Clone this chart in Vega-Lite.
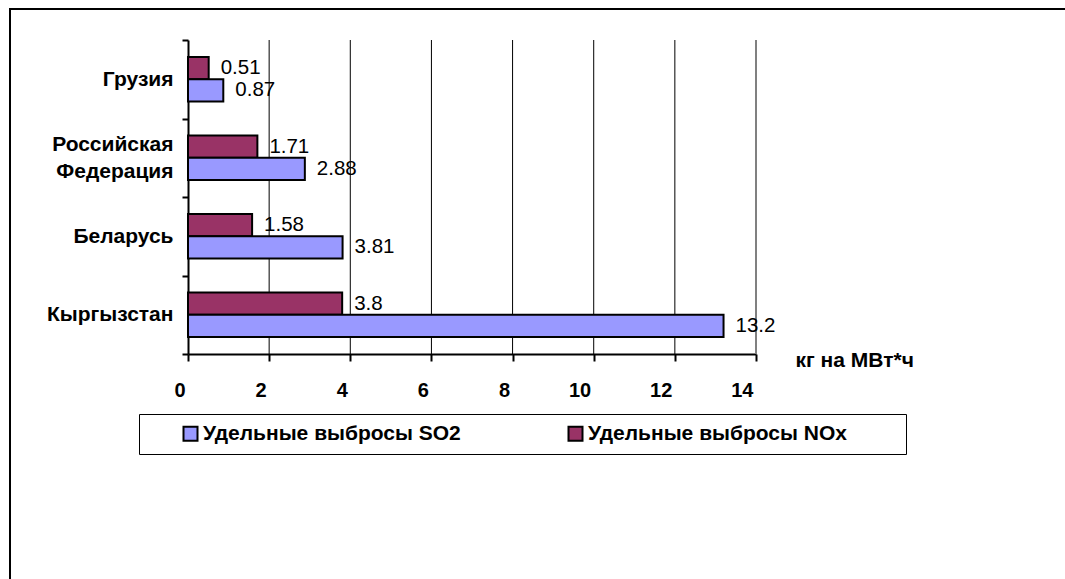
{
  "$schema": "https://vega.github.io/schema/vega-lite/v6.json",
  "width": 1100,
  "height": 640,
  "autosize": {"type": "none"},
  "padding": {"left": 10, "top": 9, "right": 0, "bottom": 0},
  "background": "white",
  "config": {
    "font": "Liberation Sans",
    "view": {"stroke": "#000", "strokeWidth": 2}
  },
  "data": {
    "values": [
      {"country": "Грузия", "series": "Удельные выбросы NOx", "value": 0.51},
      {"country": "Грузия", "series": "Удельные выбросы SO2", "value": 0.87},
      {"country": "Российская Федерация", "series": "Удельные выбросы NOx", "value": 1.71},
      {"country": "Российская Федерация", "series": "Удельные выбросы SO2", "value": 2.88},
      {"country": "Беларусь", "series": "Удельные выбросы NOx", "value": 1.58},
      {"country": "Беларусь", "series": "Удельные выбросы SO2", "value": 3.81},
      {"country": "Кыргызстан", "series": "Удельные выбросы NOx", "value": 3.8},
      {"country": "Кыргызстан", "series": "Удельные выбросы SO2", "value": 13.2}
    ]
  },
  "resolve": {"scale": {"y": "independent"}},
  "layer": [
    {
      "data": {"values": [{"value": 2}, {"value": 4}, {"value": 6}, {"value": 8}, {"value": 10}, {"value": 12}, {"value": 14}]},
      "mark": {"type": "rule"},
      "encoding": {
        "x": {"field": "value", "type": "quantitative"},
        "y": {"datum": 0, "type": "quantitative", "scale": {"domain": [0, 1], "range": [31, 345]}, "axis": null},
        "y2": {"datum": 1},
        "color": {"condition": {"test": "datum.value === 14", "value": "#808080"}, "value": "#000"},
        "strokeWidth": {"condition": {"test": "datum.value === 14", "value": 2}, "value": 1}
      }
    },
    {
      "encoding": {
        "y": {
          "field": "country",
          "type": "nominal",
          "sort": ["Грузия", "Российская Федерация", "Беларусь", "Кыргызстан"],
          "scale": {"range": [31, 345], "paddingInner": 0, "paddingOuter": 0},
          "axis": {
            "title": null,
            "orient": "left",
            "offset": -178,
            "tickBand": "extent",
            "domainColor": "#000",
            "domainWidth": 2,
            "tickColor": "#000",
            "tickWidth": 2,
            "tickSize": 6,
            "labelFontSize": 21,
            "labelFontWeight": "bold",
            "labelColor": "#000",
            "labelPadding": 9,
            "labelExpr": "split(datum.label, ' ')",
            "labelLineHeight": 27,
            "labelOffset": {"condition": {"test": "datum.value === 'Российская Федерация'", "value": -13}, "value": 0},
            "labelLimit": 300,
            "grid": false
          }
        },
        "yOffset": {
          "field": "series",
          "type": "nominal",
          "sort": ["Удельные выбросы NOx", "Удельные выбросы SO2"],
          "scale": {"paddingOuter": 0.77, "paddingInner": 0}
        },
        "x": {
          "field": "value",
          "type": "quantitative",
          "scale": {"domain": [0, 14], "range": [178, 746], "nice": false},
          "axis": {
            "title": "кг на МВт*ч",
            "orient": "bottom",
            "offset": -295,
            "values": [0, 2, 4, 6, 8, 10, 12, 14],
            "format": "d",
            "grid": false,
            "domainColor": "#000",
            "domainWidth": 2,
            "tickColor": "#000",
            "tickWidth": 2,
            "tickSize": 7,
            "labelFontSize": 20,
            "labelFontWeight": "bold",
            "labelColor": "#000",
            "labelAlign": "right",
            "labelOffset": -3,
            "labelBaseline": "middle",
            "labelPadding": 29,
            "labelFlush": false,
            "titleX": 785,
            "titleY": 6,
            "titleAlign": "left",
            "titleBaseline": "middle",
            "titleFontSize": 21,
            "titleFontWeight": "bold",
            "titleColor": "#000"
          }
        }
      },
      "layer": [
        {
          "mark": {"type": "bar", "stroke": "#000", "strokeWidth": 2},
          "encoding": {
            "color": {
              "field": "series",
              "type": "nominal",
              "scale": {
                "domain": ["Удельные выбросы SO2", "Удельные выбросы NOx"],
                "range": ["#9999FF", "#993366"]
              },
              "legend": {
                "orient": "none",
                "legendX": 129,
                "legendY": 405,
                "direction": "horizontal",
                "title": "\u00a0",
                "titleOrient": "right",
                "titlePadding": 50,
                "titleFontSize": 10,
                "strokeColor": "#000",
                "fillColor": "white",
                "padding": 9,
                "symbolType": "square",
                "symbolSize": 196,
                "symbolStrokeColor": "#000",
                "symbolStrokeWidth": 2,
                "symbolOffset": 32,
                "labelFontSize": 21,
                "labelFontWeight": "bold",
                "labelColor": "#000",
                "labelOffset": 2,
                "labelLimit": 400,
                "columnPadding": 72
              }
            }
          }
        },
        {
          "mark": {"type": "text", "align": "left", "baseline": "middle", "dx": 12, "fontSize": 20.5, "color": "#000"},
          "encoding": {
            "text": {"field": "value", "type": "nominal"}
          }
        }
      ]
    }
  ]
}
